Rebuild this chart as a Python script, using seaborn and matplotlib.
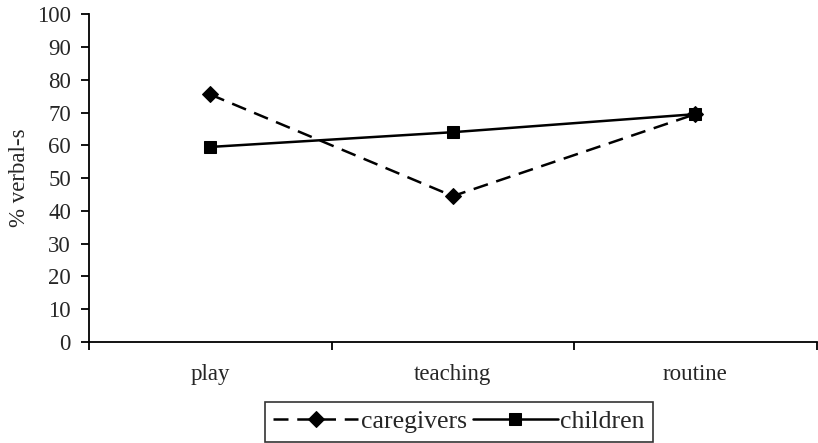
import matplotlib
matplotlib.use("Agg")
import matplotlib.pyplot as plt
import seaborn as sns
import pandas as pd
from matplotlib.ticker import FixedLocator, NullFormatter
from matplotlib.font_manager import FontProperties

categories = ["play", "teaching", "routine"]
caregivers = [75.5, 44.5, 69.5]
children = [59.5, 64.0, 69.5]
series_names = ["caregivers", "children"]

df = pd.DataFrame({
    "context": categories * 2,
    "value": caregivers + children,
    "group": [series_names[0]] * 3 + [series_names[1]] * 3,
})

sns.set_style("white")
plt.rcParams["font.family"] = ["Liberation Serif", "DejaVu Serif"]

fig = plt.figure(figsize=(8.18, 4.43), dpi=100)
ax = fig.add_axes([0.1088, 0.228, 0.8895, 0.740])

sns.lineplot(
    data=df, x="context", y="value", hue="group", style="group",
    palette={"caregivers": "black", "children": "black"},
    markers={"caregivers": "D", "children": "s"},
    dashes={"caregivers": (6, 3.5), "children": ""},
    markersize=8.5, linewidth=1.8, markeredgecolor="black",
    sort=False, ax=ax,
)

ax.set_xlim(-0.5, 2.5)
ax.set_ylim(0, 100)
ax.set_yticks(range(0, 101, 10))
ax.set_xticks(range(len(categories)))
ax.set_xticklabels(categories, fontsize=16.5)
ax.tick_params(axis="x", which="major", length=0, pad=16)
ax.xaxis.set_minor_locator(FixedLocator([-0.5, 0.5, 1.5, 2.5]))
ax.xaxis.set_minor_formatter(NullFormatter())
ax.tick_params(axis="x", which="minor", direction="out", length=6, width=1.3, color="black", bottom=True)
ax.tick_params(axis="y", direction="out", length=6, width=1.3, color="black", labelsize=16.5, left=True, pad=7)
ax.set_xlabel("")
ax.set_ylabel("% verbal-s", fontsize=16.5, labelpad=5)

for s in ["top", "right"]:
    ax.spines[s].set_visible(False)
for s in ["left", "bottom"]:
    ax.spines[s].set_color("black")
    ax.spines[s].set_linewidth(1.3)

handles, labels = ax.get_legend_handles_labels()
leg = ax.legend(handles, labels, loc="center", bbox_to_anchor=(0.5085, -0.244),
                ncol=2, frameon=True,
                prop=FontProperties(family="Liberation Serif", size=18.5),
                handlelength=3.3, columnspacing=0.25, handletextpad=0.1,
                borderpad=0.32, borderaxespad=0, fancybox=False, edgecolor="black")
leg.get_frame().set_linewidth(1.2)

fig.savefig("out.png", dpi=100)
